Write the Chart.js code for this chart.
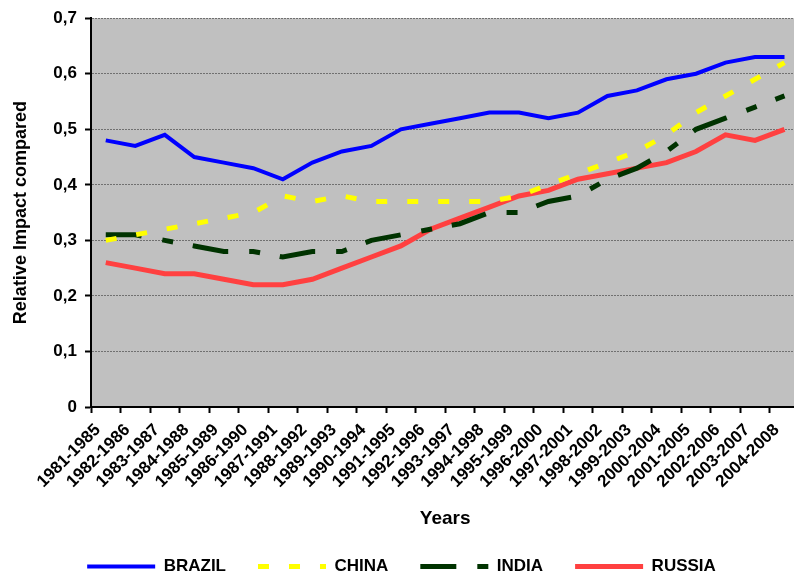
<!DOCTYPE html>
<html>
<head>
<meta charset="utf-8">
<script src="https://cdn.jsdelivr.net/npm/chart.js@4"></script>
<style>
  body { margin: 0; overflow: hidden; background: #fff; }
  #wrap { width: 806px; height: 576px; }
</style>
</head>
<body>
<div id="wrap"><canvas id="myChart" width="806" height="576"></canvas></div>
<script>
const periods = ['1981-1985','1982-1986','1983-1987','1984-1988','1985-1989','1986-1990','1987-1991','1988-1992',
  '1989-1993','1990-1994','1991-1995','1992-1996','1993-1997','1994-1998','1995-1999','1996-2000',
  '1997-2001','1998-2002','1999-2003','2000-2004','2001-2005','2002-2006','2003-2007','2004-2008'];
const brazil = [0.48,0.47,0.49,0.45,0.44,0.43,0.41,0.44,0.46,0.47,0.50,0.51,0.52,0.53,0.53,0.52,0.53,0.56,0.57,0.59,0.60,0.62,0.63,0.63];
const china  = [0.30,0.31,0.32,0.33,0.34,0.35,0.38,0.37,0.38,0.37,0.37,0.37,0.37,0.37,0.38,0.40,0.42,0.44,0.46,0.49,0.53,0.56,0.59,0.62];
const india  = [0.31,0.31,0.30,0.29,0.28,0.28,0.27,0.28,0.28,0.30,0.31,0.32,0.33,0.35,0.35,0.37,0.38,0.41,0.43,0.46,0.50,0.52,0.54,0.56];
const russia = [0.26,0.25,0.24,0.24,0.23,0.22,0.22,0.23,0.25,0.27,0.29,0.32,0.34,0.36,0.38,0.39,0.41,0.42,0.43,0.44,0.46,0.49,0.48,0.50];
const yTickLabels = ['0','0,1','0,2','0,3','0,4','0,5','0,6','0,7'];

Chart.defaults.font.family = "Arial, 'Liberation Sans', sans-serif";
Chart.defaults.color = '#000';

// grey plot area like the excel chart
const plotBackground = {
  id: 'plotBackground',
  beforeDraw(chart) {
    const {ctx, chartArea} = chart;
    ctx.save();
    ctx.fillStyle = '#C0C0C0';
    ctx.fillRect(chartArea.left, chartArea.top, chartArea.right - chartArea.left, chartArea.bottom - chartArea.top);
    ctx.restore();
  }
};

const ctx = document.getElementById('myChart').getContext('2d');
const chart = new Chart(ctx, {
  type: 'line',
  data: {
    labels: periods,
    datasets: [
      { label: 'BRAZIL', data: brazil, borderColor: '#0000FF', backgroundColor: '#0000FF', borderWidth: 4 },
      { label: 'CHINA', data: china, borderColor: '#FFFF00', backgroundColor: '#FFFF00', borderWidth: 5, borderDash: [11, 20] },
      { label: 'INDIA', data: india, borderColor: '#003300', backgroundColor: '#003300', borderWidth: 5, borderDash: [36, 21, 11, 20] },
      { label: 'RUSSIA', data: russia, borderColor: '#FF4040', backgroundColor: '#FF4040', borderWidth: 5 }
    ]
  },
  options: {
    responsive: false,
    animation: false,
    layout: { padding: { top: 15, left: 0, right: 3, bottom: -9 } },
    elements: { point: { radius: 0 }, line: { tension: 0 } },
    plugins: {
      legend: {
        position: 'bottom',
        labels: {
          usePointStyle: true,
          pointStyle: 'line',
          pointStyleWidth: 68,
          padding: 32,
          font: { size: 17, weight: 'bold' },
          generateLabels: c => {
            const items = Chart.defaults.plugins.legend.labels.generateLabels(c);
            items.forEach(it => {
              const ds = c.data.datasets[it.datasetIndex];
              it.lineDash = ds.borderDash || [];
              it.lineWidth = ds.borderWidth;
              it.strokeStyle = ds.borderColor;
            });
            return items;
          }
        }
      },
      tooltip: { enabled: false }
    },
    scales: {
      x: {
        offset: true,
        afterFit: s => { s.height = 119; },
        grid: { display: true, offset: true, drawOnChartArea: false, tickLength: 6, tickColor: '#000', tickWidth: 2 },
        border: { color: '#000', width: 2 },
        ticks: { autoSkip: false, minRotation: 45, maxRotation: 45, padding: 7, labelOffset: -8, font: { size: 17, weight: 'bold' } },
        title: { display: true, text: 'Years', font: { size: 19, weight: 'bold' }, padding: { top: 0, bottom: -4 } }
      },
      y: {
        min: 0,
        max: 0.7,
        afterFit: s => { s.width = 91; },
        ticks: { stepSize: 0.1, padding: 8, font: { size: 17, weight: 'bold' },
          callback: (v, i) => yTickLabels[i] },
        grid: { color: '#707070', lineWidth: 1, tickLength: 6, tickColor: '#000', tickWidth: 2 },
        border: { color: '#000', width: 2, dash: [2, 1] },
        title: { display: true, text: 'Relative Impact compared', font: { size: 18, weight: 'bold' }, padding: { top: 10, bottom: 0 } }
      }
    }
  },
  plugins: [plotBackground]
});
</script>
</body>
</html>
